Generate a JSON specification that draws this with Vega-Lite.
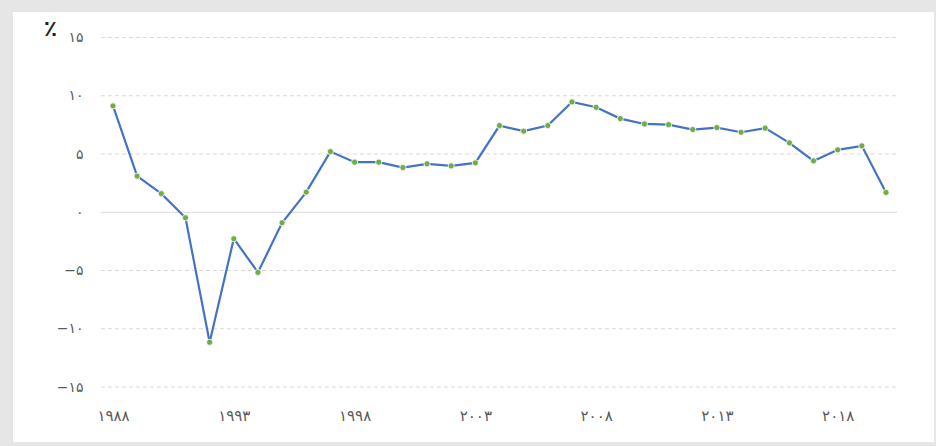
{
  "$schema": "https://vega.github.io/schema/vega-lite/v6.json",
  "autosize": {"type": "none"},
  "width": 921,
  "height": 430,
  "padding": {"left": 13, "top": 12, "right": 2, "bottom": 4},
  "background": "#e6e6e6",
  "config": {
    "view": {"fill": "white", "stroke": null},
    "font": "DejaVu Sans"
  },
  "datasets": {
    "series": [
      {"year": 1988, "value": 9.13},
      {"year": 1989, "value": 3.1},
      {"year": 1990, "value": 1.6},
      {"year": 1991, "value": -0.47},
      {"year": 1992, "value": -11.16},
      {"year": 1993, "value": -2.27},
      {"year": 1994, "value": -5.16},
      {"year": 1995, "value": -0.9},
      {"year": 1996, "value": 1.73},
      {"year": 1997, "value": 5.21},
      {"year": 1998, "value": 4.3},
      {"year": 1999, "value": 4.3},
      {"year": 2000, "value": 3.84},
      {"year": 2001, "value": 4.16},
      {"year": 2002, "value": 3.98},
      {"year": 2003, "value": 4.24},
      {"year": 2004, "value": 7.44},
      {"year": 2005, "value": 6.96},
      {"year": 2006, "value": 7.44},
      {"year": 2007, "value": 9.47},
      {"year": 2008, "value": 9.01},
      {"year": 2009, "value": 8.04},
      {"year": 2010, "value": 7.58},
      {"year": 2011, "value": 7.52},
      {"year": 2012, "value": 7.1},
      {"year": 2013, "value": 7.27},
      {"year": 2014, "value": 6.87},
      {"year": 2015, "value": 7.22},
      {"year": 2016, "value": 5.96},
      {"year": 2017, "value": 4.41},
      {"year": 2018, "value": 5.36},
      {"year": 2019, "value": 5.7},
      {"year": 2020, "value": 1.7}
    ],
    "grid": [
      {"g": -15, "x1": 1987.5, "x2": 2020.46},
      {"g": -10, "x1": 1987.5, "x2": 2020.46},
      {"g": -5, "x1": 1987.5, "x2": 2020.46},
      {"g": 5, "x1": 1987.5, "x2": 2020.46},
      {"g": 10, "x1": 1987.5, "x2": 2020.46},
      {"g": 15, "x1": 1987.5, "x2": 2020.46}
    ],
    "zeroline": [
      {"g": 0, "x1": 1987.5, "x2": 2020.46}
    ]
  },
  "layer": [
    {
      "data": {"name": "grid"},
      "mark": {"type": "rule", "stroke": "#d9d9d9", "strokeWidth": 1, "strokeDash": [4, 3]},
      "encoding": {
        "x": {
          "field": "x1", "type": "quantitative",
          "scale": {"domain": [1983.86, 2021.987], "nice": false, "zero": false},
          "axis": {
            "orient": "bottom",
            "offset": -37,
            "zindex": 1,
            "values": [1988, 1993, 1998, 2003, 2008, 2013, 2018],
            "domain": false,
            "ticks": false,
            "grid": false,
            "labelPadding": 3,
            "labelFontSize": 15,
            "labelColor": "#595959",
            "title": null,
            "labelExpr": "replace(replace(replace(replace(replace(replace(replace(replace(replace(replace(format(datum.value,'d'),regexp('0','g'),'۰'),regexp('1','g'),'۱'),regexp('2','g'),'۲'),regexp('3','g'),'۳'),regexp('4','g'),'۴'),regexp('5','g'),'۵'),regexp('6','g'),'۶'),regexp('7','g'),'۷'),regexp('8','g'),'۸'),regexp('9','g'),'۹')"
          }
        },
        "x2": {"field": "x2"},
        "y": {
          "field": "g", "type": "quantitative",
          "scale": {"domain": [-19.72, 17.19], "nice": false, "zero": false},
          "axis": {
            "orient": "left",
            "offset": -75,
            "zindex": 1,
            "values": [-15, -10, -5, 0, 5, 10, 15],
            "domain": false,
            "ticks": false,
            "grid": false,
            "labelPadding": 5,
            "labelFontSize": 14,
            "labelColor": "#595959",
            "labelExpr": "replace(replace(replace(replace(replace(replace(replace(replace(replace(replace(format(datum.value,'d'),regexp('0','g'),'۰'),regexp('1','g'),'۱'),regexp('2','g'),'۲'),regexp('3','g'),'۳'),regexp('4','g'),'۴'),regexp('5','g'),'۵'),regexp('6','g'),'۶'),regexp('7','g'),'۷'),regexp('8','g'),'۸'),regexp('9','g'),'۹')",
            "title": "٪",
            "titleAngle": 0,
            "titleX": -38,
            "titleY": 16,
            "titleAlign": "center",
            "titleBaseline": "middle",
            "titleFontSize": 22,
            "titleFontWeight": "bold",
            "titleColor": "#222222"
          }
        }
      }
    },
    {
      "data": {"name": "zeroline"},
      "mark": {"type": "rule", "stroke": "#d9d9d9", "strokeWidth": 1.2},
      "encoding": {
        "x": {"field": "x1", "type": "quantitative"},
        "x2": {"field": "x2"},
        "y": {"field": "g", "type": "quantitative"}
      }
    },
    {
      "data": {"name": "series"},
      "mark": {"type": "line", "stroke": "#4472c4", "strokeWidth": 2.2},
      "encoding": {
        "x": {"field": "year", "type": "quantitative"},
        "y": {"field": "value", "type": "quantitative"}
      }
    },
    {
      "data": {"name": "series"},
      "mark": {"type": "point", "filled": true, "fill": "#70ad47", "stroke": "white", "strokeWidth": 0.8, "size": 38, "opacity": 1},
      "encoding": {
        "x": {"field": "year", "type": "quantitative"},
        "y": {"field": "value", "type": "quantitative"}
      }
    }
  ]
}
